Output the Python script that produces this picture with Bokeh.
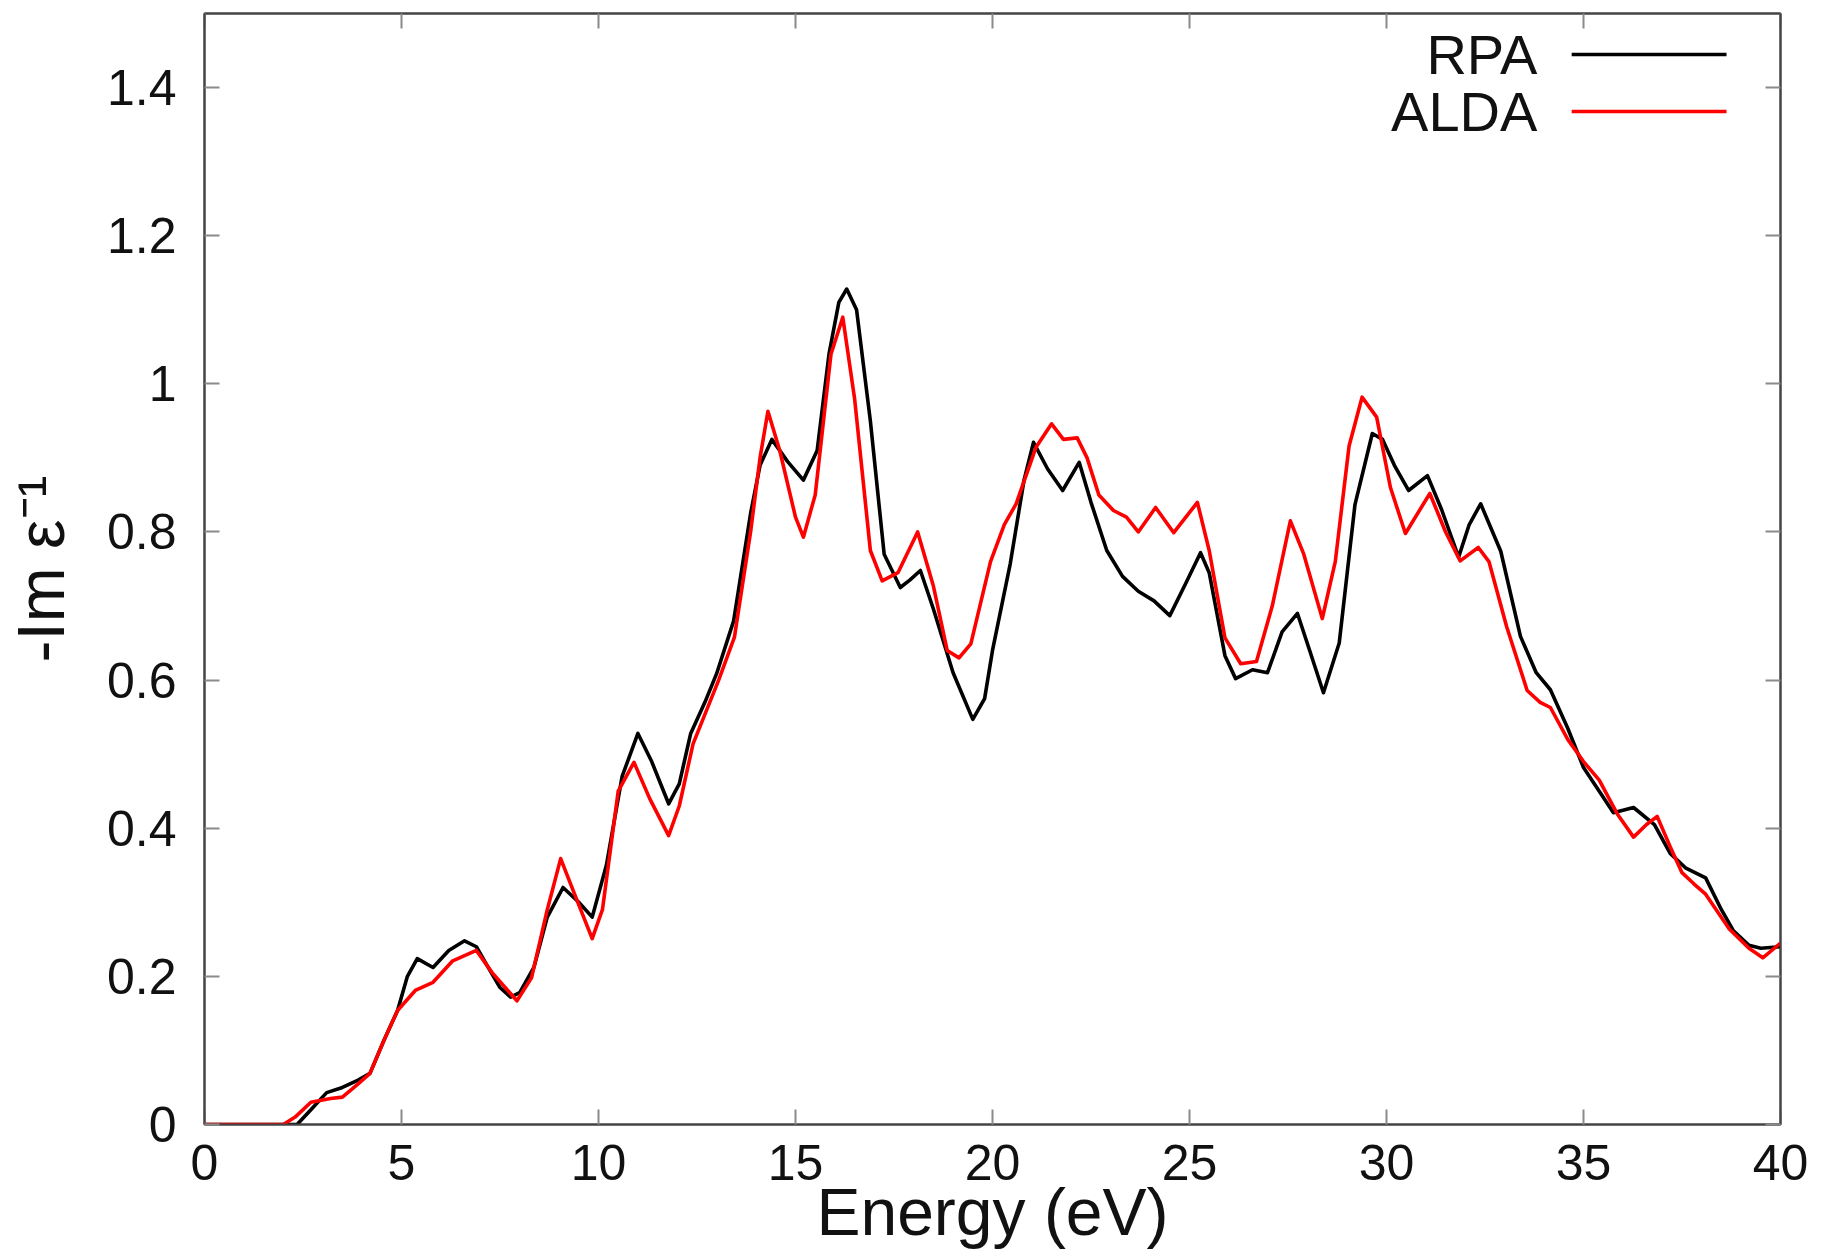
from bokeh.plotting import figure
from bokeh.models import (Range1d, FixedTicker, LinearAxis, CustomJSTickFormatter,
                          Label, Arrow)
from bokeh.embed import file_html
from bokeh.resources import INLINE

# ---- data ----
energy_rpa = [0, 1, 2.0, 2.35, 2.7, 3.1, 3.5, 3.9, 4.2, 4.55, 4.9, 5.15, 5.4, 5.8, 6.2, 6.6,
              6.9, 7.2, 7.5, 7.77, 8.0, 8.36, 8.7, 9.1, 9.5, 9.84, 10.2, 10.6, 11.0, 11.35,
              11.78, 12.05, 12.34, 12.7, 13.0, 13.43, 13.86, 14.1, 14.4, 14.8, 15.2, 15.55,
              15.85, 16.1, 16.3, 16.55, 16.9, 17.25, 17.66, 17.9, 18.17, 18.5, 19.0, 19.5,
              19.8, 20.0, 20.45, 20.8, 21.04, 21.4, 21.78, 22.2, 22.5, 22.9, 23.3, 23.7,
              24.1, 24.5, 24.9, 25.28, 25.5, 25.9, 26.17, 26.6, 26.98, 27.35, 27.74, 28.05,
              28.4, 28.8, 29.2, 29.64, 29.9, 30.2, 30.56, 31.04, 31.4, 31.83, 32.1, 32.39,
              32.9, 33.4, 33.8, 34.16, 34.6, 35.0, 35.4, 35.76, 36.27, 36.8, 37.2, 37.6,
              38.1, 38.5, 38.8, 39.2, 39.5, 40]
loss_rpa = [0, 0, 0, 0.0, 0.02, 0.043, 0.05, 0.06, 0.069, 0.113, 0.154, 0.2, 0.224, 0.212,
            0.235, 0.248, 0.24, 0.212, 0.185, 0.172, 0.178, 0.212, 0.28, 0.32, 0.3, 0.28,
            0.35, 0.47, 0.528, 0.49, 0.433, 0.46, 0.528, 0.57, 0.609, 0.68, 0.825, 0.89,
            0.925, 0.895, 0.87, 0.91, 1.04, 1.11, 1.128, 1.1, 0.95, 0.77, 0.725, 0.735,
            0.748, 0.696, 0.61, 0.547, 0.575, 0.64, 0.757, 0.87, 0.921, 0.885, 0.856,
            0.894, 0.84, 0.775, 0.74, 0.72, 0.707, 0.687, 0.73, 0.772, 0.745, 0.633,
            0.602, 0.614, 0.61, 0.665, 0.69, 0.64, 0.583, 0.65, 0.837, 0.933, 0.925, 0.89,
            0.856, 0.876, 0.83, 0.766, 0.81, 0.838, 0.774, 0.659, 0.61, 0.587, 0.535,
            0.482, 0.45, 0.421, 0.428, 0.405, 0.366, 0.346, 0.333, 0.29, 0.262, 0.242,
            0.238, 0.24]

energy_alda = [0, 1, 2.0, 2.3, 2.7, 3.2, 3.5, 3.9, 4.2, 4.55, 4.9, 5.35, 5.8, 6.3, 6.9, 7.3,
               7.93, 8.3, 8.7, 9.04, 9.4, 9.84, 10.1, 10.5, 10.9, 11.3, 11.78, 12.05, 12.4,
               13.05, 13.45, 13.86, 14.1, 14.3, 14.6, 15.0, 15.2, 15.5, 15.9, 16.2, 16.5,
               16.9, 17.2, 17.6, 18.1, 18.5, 18.85, 19.15, 19.45, 19.95, 20.3, 20.6, 21.1,
               21.5, 21.8, 22.15, 22.4, 22.7, 23.07, 23.4, 23.7, 24.14, 24.6, 25.2, 25.5,
               25.9, 26.3, 26.7, 27.1, 27.56, 27.9, 28.37, 28.7, 29.05, 29.38, 29.75, 30.1,
               30.48, 31.1, 31.5, 31.87, 32.33, 32.6, 33.05, 33.57, 33.9, 34.16, 34.6, 35.0,
               35.4, 35.85, 36.27, 36.6, 36.87, 37.2, 37.5, 37.8, 38.1, 38.7, 39.2, 39.55, 40]
loss_alda = [0, 0, 0, 0.01, 0.03, 0.035, 0.037, 0.055, 0.069, 0.113, 0.154, 0.181, 0.192,
             0.221, 0.235, 0.205, 0.167, 0.198, 0.29, 0.359, 0.31, 0.251, 0.29, 0.45, 0.489,
             0.44, 0.39, 0.43, 0.514, 0.6, 0.658, 0.8, 0.9, 0.963, 0.91, 0.82, 0.793, 0.85,
             1.04, 1.09, 0.98, 0.775, 0.734, 0.745, 0.8, 0.727, 0.64, 0.63, 0.649, 0.76,
             0.81, 0.838, 0.914, 0.946, 0.925, 0.927, 0.9, 0.85, 0.829, 0.82, 0.8, 0.833,
             0.799, 0.84, 0.775, 0.657, 0.622, 0.625, 0.7, 0.815, 0.77, 0.683, 0.76, 0.916,
             0.982, 0.955, 0.86, 0.798, 0.852, 0.8, 0.761, 0.779, 0.76, 0.672, 0.586, 0.57,
             0.563, 0.52, 0.49, 0.465, 0.42, 0.388, 0.405, 0.416, 0.375, 0.34, 0.325, 0.311,
             0.264, 0.238, 0.225, 0.245]

x_ticks = [0, 5, 10, 15, 20, 25, 30, 35, 40]
y_ticks = [0, 0.2, 0.4, 0.6, 0.8, 1.0, 1.2, 1.4]
series_names = ["RPA", "ALDA"]
series_colors = ["#000000", "#ff0000"]

FONT = "Liberation Sans"
FRAME = "#444444"
TICK = "#8a8a8a"

p = figure(frame_width=1576, frame_height=1111,
           min_border_left=204, min_border_right=34, min_border_top=13, min_border_bottom=105,
           x_range=Range1d(0, 40), y_range=Range1d(0, 1.5),
           output_backend="svg", toolbar_location=None,
           x_axis_label="Energy (eV)", y_axis_label="-Im ε⁻¹")
p.xgrid.visible = False
p.ygrid.visible = False
p.outline_line_color = FRAME
p.outline_line_width = 2
p.background_fill_color = "white"
p.border_fill_color = "white"

p.line(energy_rpa, loss_rpa, line_color=series_colors[0], line_width=3.6, line_join="round")
p.line(energy_alda, loss_alda, line_color=series_colors[1], line_width=3.6, line_join="round")

yfmt = CustomJSTickFormatter(code="return tick.toFixed(1).replace(/\\.0$/, '');")
blank = CustomJSTickFormatter(code="return '';")

def style(ax, ticks):
    ax.ticker = FixedTicker(ticks=ticks)
    ax.axis_line_color = FRAME
    ax.axis_line_width = 2
    ax.major_tick_line_color = TICK
    ax.major_tick_line_width = 2
    ax.major_tick_in = 15
    ax.major_tick_out = 0
    ax.minor_tick_line_color = None
    ax.major_label_text_font = FONT
    ax.major_label_text_font_size = "50px"
    ax.major_label_text_color = "#111111"
    ax.axis_label_text_font = FONT
    ax.axis_label_text_font_size = "66px"
    ax.axis_label_text_font_style = "normal"
    ax.axis_label_text_color = "#111111"

xa = p.xaxis[0]
style(xa, x_ticks)
xa.major_label_standoff = 20
xa.axis_label_standoff = -8

ya = p.yaxis[0]
style(ya, y_ticks)
ya.formatter = yfmt
ya.major_label_standoff = 28
ya.axis_label_standoff = 26

top = LinearAxis(formatter=blank)
style(top, x_ticks)
top.major_label_standoff = 0
p.add_layout(top, "above")

right = LinearAxis(formatter=blank)
style(right, y_ticks)
right.major_label_standoff = 0
p.add_layout(right, "right")

# legend (text left of line sample, as in the reference)
leg_y = [1.4446, 1.3676]
for name, col, yy in zip(series_names, series_colors, leg_y):
    p.add_layout(Label(x=33.83, y=yy, text=name, text_align="right", text_baseline="middle",
                       text_font=FONT, text_font_size="56px", text_color="#111111"))
    p.add_layout(Arrow(end=None, x_start=34.7, y_start=yy, x_end=38.63, y_end=yy,
                       line_color=col, line_width=3.6))

open("out.html", "w").write(file_html(p, INLINE))
